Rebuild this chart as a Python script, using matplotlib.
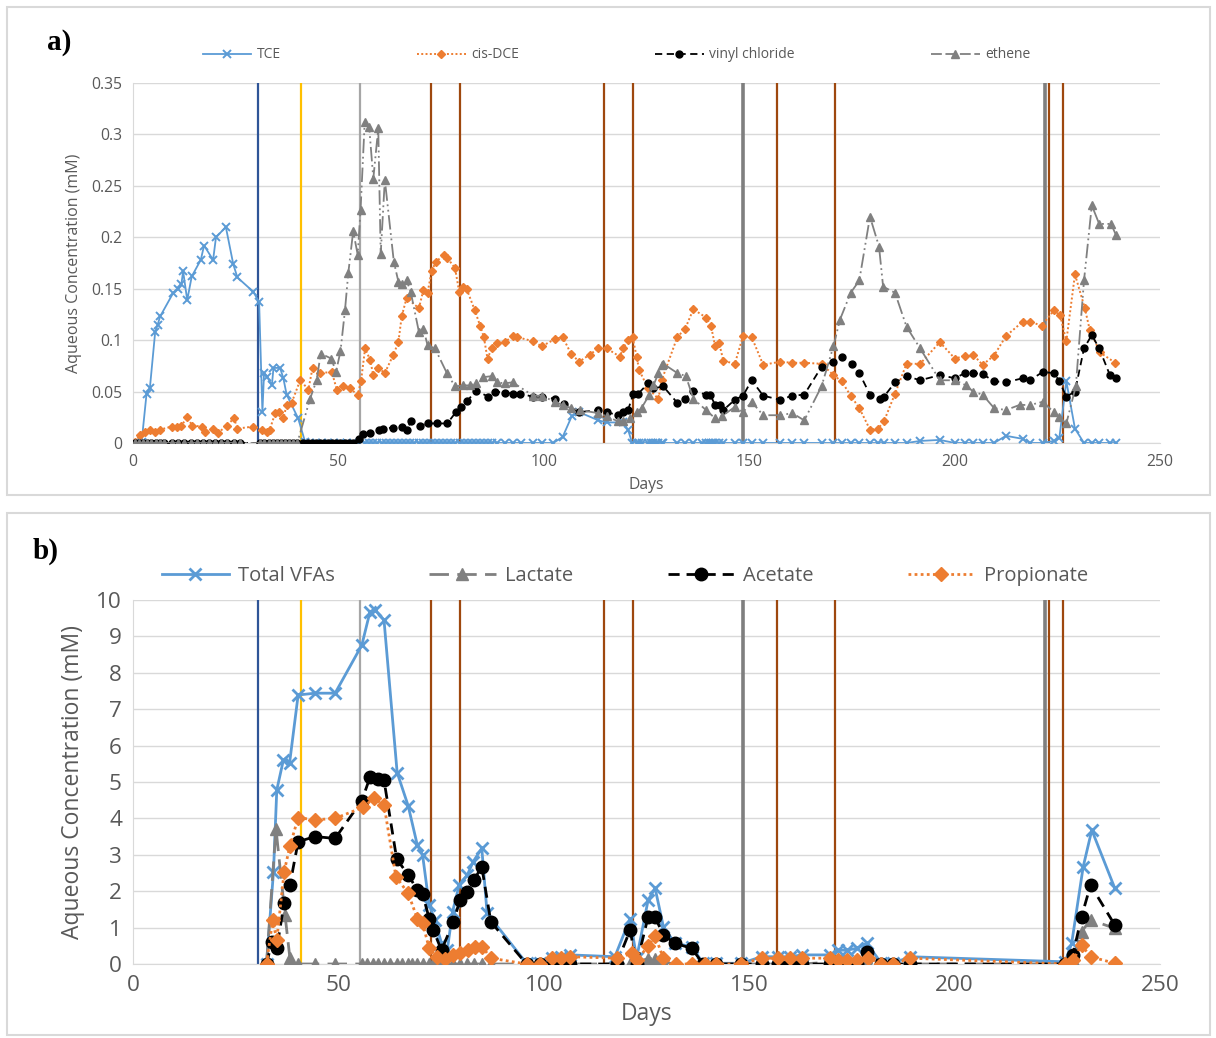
import matplotlib
matplotlib.use("Agg")
import matplotlib.pyplot as plt
from matplotlib.patches import Rectangle
from matplotlib.lines import Line2D

plt.rcParams['font.family'] = ['Open Sans', 'DejaVu Sans']

# ---------------- panel a: chlorinated ethenes (mM) ----------------
tce_days = [0.5, 2.1, 3.3, 4.1, 5.4, 6.0, 6.6, 9.8, 11.0, 11.8, 12.2, 13.2, 14.3, 16.5, 17.3,
            19.5, 20.2, 22.6, 24.4, 25.4, 29.3, 30.7, 31.5, 31.9, 32.7, 33.8, 34.2, 35.8, 36.6,
            37.4, 40.2, 41.9, 43, 44.5, 46, 47.5, 49, 50.5, 52, 53.5, 55, 56.5, 57.5, 58.5,
            59.5, 60.5, 61.5, 62.5, 63.5, 64.5, 65.5, 66.5, 67.5, 68.5, 69.5, 70.5, 71.5, 72.5,
            73.5, 74.5, 75.5, 76.5, 77.5, 78.5, 79.5, 80.5, 81.5, 82.5, 83.5, 84.5, 85.5, 86.5,
            87.5, 88.5, 90.5, 92.5, 94.5, 97.4, 99.5, 102.3, 104.6, 106.8, 108.6, 113.3, 115.3,
            119.3, 120.5, 121.5, 122.6, 123.2, 124, 125.4, 126, 126.6, 127.3, 127.9, 128.7,
            129.1, 132.5, 134.4, 136.4, 138.5, 139.5, 140.2, 140.7, 141.2, 141.7, 142.7, 143.7,
            146.5, 148.5, 150.6, 153.4, 157.5, 160.5, 163.4, 167.6, 170.5, 172.5, 174.7, 176.8,
            179.4, 181.4, 182.8, 185.5, 188.3, 191.6, 196.4, 200.1, 202.5, 204.5, 206.8, 209.6,
            212.5, 216.6, 218.4, 221.4, 224.2, 225.5, 227.2, 229.3, 231.5, 233.4, 235.2, 237.8,
            239.3]
tce_vals = [0.0, 0.001, 0.048, 0.053, 0.108, 0.115, 0.123, 0.146, 0.150, 0.155, 0.167, 0.139,
            0.162, 0.178, 0.192, 0.178, 0.200, 0.210, 0.174, 0.161, 0.147, 0.137, 0.030, 0.068,
            0.064, 0.056, 0.073, 0.073, 0.063, 0.047, 0.024, 0.001] + [0.0] * 47 + \
           [0.0, 0.006, 0.026, 0.030, 0.022, 0.020, 0.020, 0.013] + [0.0] * 39 + \
           [0.002, 0.003, 0.0, 0.0, 0.0, 0.0, 0.0, 0.007, 0.004, 0.0, 0.0, 0.002, 0.005,
            0.060, 0.014, 0.0, 0.0, 0.0, 0.0, 0.0]

dce_days = [0.5, 1.7, 2.9, 4.1, 5.4, 6.6, 9.4, 10.6, 11.8, 13.2, 14.4, 16.7, 17.5, 19.5, 20.8,
            22.8, 24.6, 25.4, 29.3, 31.3, 32.5, 33.3, 34.6, 35.6, 36.6, 37.4, 38.6, 40.7, 42.7,
            43.7, 45.5, 48.4, 49.6, 51.2, 52.8, 54.7, 55.5, 56.5, 57.7, 58.5, 59.7, 61.3, 63.4,
            64.6, 65.4, 66.6, 69.6, 70.7, 71.7, 72.7, 73.7, 75.7, 76.5, 78.4, 79.4, 80.4, 81.2,
            83.2, 84.5, 85.4, 86.3, 87.3, 88.5, 90.5, 92.4, 93.4, 97.4, 99.5, 102.7, 104.6,
            106.6, 108.6, 111.2, 113.3, 115.3, 118.5, 119.3, 120.5, 121.6, 122.6, 123.2, 125.4,
            127.9, 128.7, 132.5, 134.4, 136.4, 139.5, 140.7, 141.7, 142.7, 143.7, 146.5, 148.5,
            150.6, 153.4, 157.5, 160.5, 163.4, 167.6, 170.5, 172.5, 174.7, 176.8, 179.4, 181.4,
            182.8, 185.5, 188.3, 191.6, 196.4, 200.1, 202.5, 204.5, 206.8, 209.6, 212.5, 216.6,
            218.4, 221.2, 224.2, 225.7, 227.2, 229.3, 231.7, 232.9, 235.4, 239.1]
dce_vals = [0.001, 0.008, 0.011, 0.013, 0.011, 0.013, 0.016, 0.016, 0.017, 0.025, 0.017, 0.016,
            0.011, 0.014, 0.010, 0.017, 0.024, 0.014, 0.016, 0.013, 0.011, 0.013, 0.029, 0.030,
            0.024, 0.037, 0.039, 0.061, 0.052, 0.073, 0.068, 0.069, 0.052, 0.055, 0.053, 0.047,
            0.060, 0.092, 0.081, 0.066, 0.073, 0.068, 0.086, 0.098, 0.123, 0.141, 0.131, 0.149,
            0.146, 0.167, 0.176, 0.183, 0.180, 0.170, 0.147, 0.152, 0.150, 0.129, 0.114, 0.103,
            0.082, 0.092, 0.097, 0.098, 0.104, 0.103, 0.099, 0.094, 0.101, 0.103, 0.087, 0.079,
            0.086, 0.092, 0.092, 0.084, 0.092, 0.100, 0.103, 0.084, 0.071, 0.053, 0.043, 0.061,
            0.103, 0.111, 0.130, 0.122, 0.114, 0.094, 0.097, 0.080, 0.077, 0.104, 0.103, 0.076,
            0.079, 0.078, 0.078, 0.077, 0.066, 0.060, 0.046, 0.034, 0.013, 0.014, 0.021, 0.048,
            0.077, 0.077, 0.098, 0.082, 0.085, 0.086, 0.076, 0.085, 0.104, 0.118, 0.118, 0.114,
            0.129, 0.124, 0.099, 0.164, 0.131, 0.110, 0.088, 0.078]

vc_days = [0.5, 1.5, 2.5, 3.5, 4.5, 5.5, 6.5, 7.5, 9.5, 11, 12.5, 14, 15.5, 17, 18.5, 20, 21.5,
           23, 24.5, 26, 30.8, 32, 33, 34, 35, 36, 37, 38, 39, 40, 41.5, 42.5, 43.5, 44.5, 45.5,
           46.5, 47.5, 48.5, 49.5, 50.5, 51.5, 52.5, 53.5, 54.9, 56.1, 57.7, 59.9, 60.9, 63.4,
           65.4, 66.6, 67.7, 69.9, 71.9, 73.9, 76.5, 78.6, 79.8, 81.4, 83.5, 86.5, 88.1, 90.5,
           92.4, 94.2, 97.4, 99.5, 102.7, 104.8, 108.6, 113.3, 115.3, 118.1, 119.3, 120.5,
           121.8, 123.0, 125.4, 126.6, 129.1, 132.5, 134.4, 136.4, 139.5, 140.5, 141.7, 142.9,
           143.7, 146.5, 148.5, 150.6, 153.4, 157.5, 160.5, 163.4, 167.6, 170.5, 172.5, 175.0,
           176.8, 179.4, 181.8, 182.8, 185.5, 188.3, 191.6, 196.4, 200.1, 202.5, 204.5, 206.8,
           209.6, 212.5, 216.6, 218.4, 221.4, 224.2, 225.5, 227.2, 229.3, 231.5, 233.4, 235.2,
           237.8, 239.3]
vc_vals = [0.0] * 43 + \
          [0.004, 0.009, 0.010, 0.013, 0.014, 0.015, 0.016, 0.013, 0.021, 0.017, 0.019, 0.019,
           0.019, 0.030, 0.035, 0.041, 0.051, 0.045, 0.050, 0.049, 0.048, 0.048, 0.045, 0.045,
           0.043, 0.038, 0.030, 0.032, 0.030, 0.027, 0.030, 0.032, 0.048, 0.048, 0.058, 0.053,
           0.055, 0.039, 0.043, 0.051, 0.047, 0.047, 0.037, 0.037, 0.032, 0.042, 0.046, 0.061,
           0.046, 0.042, 0.046, 0.047, 0.074, 0.079, 0.084, 0.077, 0.068, 0.047, 0.043, 0.045,
           0.059, 0.065, 0.061, 0.066, 0.063, 0.068, 0.068, 0.067, 0.060, 0.059, 0.063, 0.061,
           0.069, 0.068, 0.060, 0.045, 0.050, 0.092, 0.105, 0.092, 0.066, 0.063]

eth_days = [0.5, 1.5, 2.5, 3.5, 4.5, 5.5, 6.5, 7.5, 9.5, 11, 12.5, 14, 15.5, 17, 18.5, 20, 21.5,
            23, 24.5, 26, 30.8, 32, 33, 34, 35, 36, 37, 38, 39, 40, 43.1, 44.7, 45.7, 48.3, 49.4,
            50.5, 51.6, 52.4, 53.6, 54.7, 55.4, 56.4, 57.5, 58.5, 59.7, 60.3, 61.3, 63.5, 64.6,
            65.6, 66.6, 67.6, 69.6, 70.7, 71.7, 73.5, 76.4, 78.4, 80.4, 82.0, 83.6, 85.3, 87.3,
            88.5, 90.5, 92.4, 97.4, 99.5, 102.7, 104.6, 106.6, 108.8, 113.3, 115.3, 118.1, 119.3,
            121.0, 122.8, 123.8, 125.7, 126.7, 127.9, 128.7, 129.1, 132.5, 134.6, 136.4, 139.5,
            141.7, 143.3, 146.5, 148.5, 150.6, 153.4, 157.5, 160.5, 163.4, 167.6, 170.5, 172.1,
            174.7, 176.8, 179.4, 181.6, 182.6, 185.5, 188.3, 191.6, 196.4, 200.1, 202.8, 204.5,
            206.8, 209.6, 212.5, 215.8, 218.4, 221.4, 224.2, 225.5, 227.2, 229.5, 231.5, 233.4,
            235.2, 238.1, 239.3]
eth_vals = [0.0] * 30 + \
           [0.043, 0.061, 0.087, 0.082, 0.069, 0.089, 0.129, 0.165, 0.206, 0.183, 0.227, 0.312,
            0.307, 0.257, 0.306, 0.184, 0.256, 0.176, 0.157, 0.155, 0.158, 0.147, 0.108, 0.111,
            0.095, 0.092, 0.068, 0.055, 0.056, 0.056, 0.058, 0.064, 0.065, 0.059, 0.058, 0.059,
            0.046, 0.046, 0.040, 0.037, 0.034, 0.032, 0.029, 0.026, 0.021, 0.021, 0.024, 0.030,
            0.034, 0.047, 0.056, 0.068, 0.076, 0.077, 0.068, 0.065, 0.043, 0.032, 0.024, 0.026,
            0.035, 0.030, 0.040, 0.027, 0.027, 0.029, 0.022, 0.055, 0.094, 0.120, 0.146, 0.158,
            0.220, 0.191, 0.152, 0.146, 0.113, 0.092, 0.061, 0.061, 0.056, 0.050, 0.047, 0.034,
            0.032, 0.037, 0.037, 0.040, 0.030, 0.025, 0.019, 0.055, 0.158, 0.231, 0.213, 0.213,
            0.202]

# ---------------- panel b: volatile fatty acids (mM) ----------------
vfa_days = [32.5, 34.2, 35.0, 36.6, 38.1, 40.2, 44.3, 49.2, 55.7, 57.7, 58.9, 61.1, 64.3, 67.0,
            69.2, 70.5, 72.1, 73.5, 75.1, 76.5, 77.8, 79.4, 81.4, 82.8, 84.9, 86.2, 95.8, 99.1,
            101.9, 104.3, 106.4, 117.3, 121.0, 122.6, 125.4, 127.1, 129.1, 131.9, 136.0, 138.8,
            142.0, 148.1, 153.0, 157.0, 160.0, 162.8, 169.7, 171.7, 173.7, 176.2, 178.6, 182.2,
            185.1, 189.1, 226.9, 228.5, 231.3, 233.4, 239.0]
vfa_vals = [0.0, 2.54, 4.78, 5.60, 5.51, 7.39, 7.44, 7.44, 8.76, 9.68, 9.73, 9.45, 5.26, 4.34,
            3.27, 2.99, 1.62, 1.21, 0.57, 0.38, 1.44, 2.17, 2.45, 2.81, 3.18, 1.39, 0.02, 0.02,
            0.16, 0.20, 0.25, 0.20, 1.25, 0.16, 1.76, 2.08, 1.03, 0.57, 0.48, 0.02, 0.02, 0.02,
            0.20, 0.20, 0.20, 0.25, 0.25, 0.38, 0.38, 0.43, 0.57, 0.02, 0.02, 0.20, 0.06, 0.57,
            2.67, 3.68, 2.08]

ace_days = [32.5, 33.8, 35.0, 36.8, 38.2, 40.2, 44.3, 49.2, 55.7, 57.7, 59.7, 61.1, 64.2, 67.0,
            69.2, 70.5, 72.1, 73.1, 75.1, 78.0, 79.6, 81.2, 83.0, 84.9, 87.1, 95.8, 99.1, 102.3,
            104.3, 106.4, 117.7, 121.0, 122.6, 125.4, 127.1, 129.1, 131.9, 136.0, 138.8, 142.0,
            148.1, 153.0, 157.0, 160.0, 162.8, 169.7, 171.7, 173.7, 176.2, 178.6, 182.2, 185.1,
            189.1, 226.9, 228.8, 230.9, 233.1, 239.0]
ace_vals = [0.0, 0.61, 0.43, 1.68, 2.17, 3.36, 3.50, 3.45, 4.49, 5.13, 5.07, 5.05, 2.88, 2.45,
            2.03, 1.92, 1.25, 0.93, 0.38, 1.16, 1.76, 1.99, 2.31, 2.67, 1.16, 0.0, 0.0, 0.0, 0.0,
            0.0, 0.0, 0.93, 0.0, 1.30, 1.28, 0.80, 0.57, 0.43, 0.0, 0.0, 0.0, 0.0, 0.0, 0.0, 0.0,
            0.0, 0.0, 0.0, 0.0, 0.34, 0.0, 0.0, 0.0, 0.0, 0.25, 1.30, 2.17, 1.07]

pro_days = [32.5, 34.0, 35.0, 36.8, 38.2, 40.2, 44.3, 49.2, 55.9, 58.6, 61.1, 64.0, 67.0, 69.2,
            70.5, 72.1, 73.9, 75.9, 78.0, 79.6, 81.6, 83.3, 85.0, 87.1, 95.8, 99.1, 101.9, 104.3,
            106.4, 117.7, 121.4, 122.6, 125.4, 127.1, 129.1, 132.3, 136.0, 139.2, 142.0, 148.1,
            153.0, 157.0, 160.0, 162.8, 169.7, 171.7, 173.7, 176.2, 179.0, 182.2, 185.1, 189.1,
            226.9, 228.8, 230.9, 233.1, 239.0]
pro_vals = [0.0, 1.21, 0.66, 2.54, 3.24, 4.02, 3.96, 4.00, 4.30, 4.55, 4.37, 2.40, 1.94, 1.25,
            1.12, 0.43, 0.20, 0.13, 0.25, 0.29, 0.38, 0.48, 0.48, 0.16, 0.0, 0.0, 0.16, 0.16,
            0.20, 0.16, 0.29, 0.10, 0.49, 0.77, 0.16, 0.0, 0.0, 0.0, 0.0, 0.0, 0.16, 0.16, 0.16,
            0.16, 0.16, 0.10, 0.10, 0.10, 0.16, 0.0, 0.0, 0.16, 0.0, 0.10, 0.52, 0.20, 0.02]

lac_days = [32.5, 34.8, 37.0, 38.2, 40.2, 44.3, 49.2, 55.7, 57.0, 58.5, 59.7, 61.1, 62.5, 64.2,
            65.5, 67.0, 68.0, 69.2, 70.5, 72.1, 73.1, 74.0, 75.1, 76.5, 78.0, 79.6, 81.2, 83.0,
            84.9, 87.1, 95.8, 99.1, 102.3, 104.3, 106.4, 117.7, 121.0, 122.6, 125.4, 127.1,
            129.1, 131.9, 136.0, 138.8, 142.0, 148.1, 153.0, 157.0, 160.0, 162.8, 169.7, 171.7,
            173.7, 176.2, 178.6, 182.2, 185.1, 189.1, 226.9, 228.8, 230.9, 233.1, 239.0]
lac_vals = [0.0, 3.72, 1.35, 0.16] + [0.0] * 32 + \
           [0.0, 0.05, 0.15, 0.15, 0.05] + [0.0] * 9 + \
           [0.05, 0.05, 0.05, 0.05, 0.05] + [0.0] * 4 + [0.10, 0.89, 1.21, 0.98]

# vertical event lines (days, colour, width)
event_days = [30.5, 41.0, 55.2, 72.6, 79.7, 114.6, 121.7, 148.6, 156.7, 170.8, 221.9, 222.9, 226.5]
event_cols = ['#2f5597', '#ffc000', '#a6a6a6', '#9e480e', '#9e480e', '#9e480e', '#9e480e',
              '#7f7f7f', '#9e480e', '#9e480e', '#7f7f7f', '#9e480e', '#9e480e']
event_lw = [1.6, 1.6, 1.6, 1.6, 1.6, 1.6, 1.6, 2.6, 1.6, 1.6, 2.6, 1.6, 1.6]

BLUE = '#5b9bd5'
ORANGE = '#ed7d31'
GREY = '#808080'
TXT = '#595959'

fig = plt.figure(figsize=(12.16, 10.38), dpi=100)

# panel frames
fig.patches.append(Rectangle((7 / 1216, 1 - 495 / 1038), 1203 / 1216, 488 / 1038,
                             transform=fig.transFigure, fill=False, ec='#d9d9d9', lw=1.5))
fig.patches.append(Rectangle((7 / 1216, 1 - 1035 / 1038), 1203 / 1216, 522 / 1038,
                             transform=fig.transFigure, fill=False, ec='#d9d9d9', lw=1.5))

ax1 = fig.add_axes([133 / 1216, 1 - 443 / 1038, 1027 / 1216, 360 / 1038])
ax2 = fig.add_axes([133 / 1216, 1 - 964 / 1038, 1027 / 1216, 364 / 1038])


def style_axes(ax, ymax, ystep, fs, yfmt):
    ax.set_xlim(0, 250)
    ax.set_ylim(0, ymax)
    ax.set_xticks(range(0, 251, 50))
    yt = [i * ystep for i in range(int(round(ymax / ystep)) + 1)]
    ax.set_yticks(yt)
    ax.set_yticklabels([yfmt(v) for v in yt])
    ax.grid(axis='y', color='#d9d9d9', lw=1)
    ax.set_axisbelow(True)
    for s in ['top', 'right']:
        ax.spines[s].set_visible(False)
    ax.spines['left'].set_color('#d9d9d9')
    ax.spines['bottom'].set_color('#d9d9d9')
    ax.tick_params(length=0, labelsize=fs, colors=TXT, pad=8)


def fmt_a(v):
    return '0' if v == 0 else ('%.2f' % v).rstrip('0').rstrip('.')


style_axes(ax1, 0.35, 0.05, 11.3, fmt_a)
style_axes(ax2, 10, 1, 16.2, lambda v: '%d' % v)

for ax in (ax1, ax2):
    for d, c, w in zip(event_days, event_cols, event_lw):
        ax.axvline(d, color=c, lw=w, zorder=1)

# panel a series
ax1.plot(tce_days, tce_vals, color=BLUE, lw=1.3, marker='x', ms=6, mew=1.4, zorder=3)
ax1.plot(dce_days, dce_vals, color=ORANGE, lw=1.4, ls=(0, (1, 1.2)), marker='D', ms=4.2,
         zorder=4)
ax1.plot(vc_days, vc_vals, color='black', lw=1.3, ls=(0, (4, 2.5)), marker='o', ms=5, zorder=5)
ax1.plot(eth_days, eth_vals, color=GREY, lw=1.3, ls=(0, (8, 2, 1, 2, 1, 2)), marker='^',
         ms=5.5, zorder=6)

ax1.set_xlabel('Days', fontsize=11.3, color=TXT, labelpad=5)
ax1.set_ylabel('Aqueous Concentration (mM)', fontsize=11.5, color=TXT, labelpad=6)

# panel b series
ax2.plot(vfa_days, vfa_vals, color=BLUE, lw=2, marker='x', ms=9, mew=2, zorder=3)
ax2.plot(lac_days, lac_vals, color=GREY, lw=2, ls=(0, (7, 3)), marker='^', ms=8, zorder=4)
ax2.plot(ace_days, ace_vals, color='black', lw=2, ls=(0, (4, 2.5)), marker='o', ms=9,
         zorder=5)
ax2.plot(pro_days, pro_vals, color=ORANGE, lw=2, ls=(0, (1, 1.2)), marker='D', ms=7,
         zorder=6)

ax2.set_xlabel('Days', fontsize=16.5, color=TXT, labelpad=4)
ax2.set_ylabel('Aqueous Concentration (mM)', fontsize=16.5, color=TXT, labelpad=8)

# legends
h_a = [Line2D([], [], color=BLUE, lw=1.3, marker='x', ms=6, mew=1.4),
       Line2D([], [], color=ORANGE, lw=1.4, ls=(0, (1, 1.2)), marker='D', ms=4.2),
       Line2D([], [], color='black', lw=1.3, ls=(0, (4, 2.5)), marker='o', ms=5),
       Line2D([], [], color=GREY, lw=1.3, ls=(0, (6, 2)), marker='^', ms=5.5)]
fig.legend(h_a, ['TCE', 'cis-DCE', 'vinyl chloride', 'ethene'], loc='center',
           bbox_to_anchor=(0.507, 1 - 55 / 1038), ncol=4, frameon=False, fontsize=10,
           labelcolor=TXT, handlelength=3.5, columnspacing=9.8, handletextpad=0.4)

h_b = [Line2D([], [], color=BLUE, lw=2, marker='x', ms=9, mew=2),
       Line2D([], [], color=GREY, lw=2, ls=(0, (7, 3)), marker='^', ms=8),
       Line2D([], [], color='black', lw=2, ls=(0, (4, 2.5)), marker='o', ms=9),
       Line2D([], [], color=ORANGE, lw=2, ls=(0, (1, 1.2)), marker='D', ms=7)]
fig.legend(h_b, ['Total VFAs', 'Lactate', 'Acetate', 'Propionate'], loc='center',
           bbox_to_anchor=(0.514, 1 - 576 / 1038), ncol=4, frameon=False, fontsize=14.5,
           labelcolor=TXT, handlelength=3.3, columnspacing=4.7, handletextpad=0.45)

fig.text(47 / 1216, 1 - 42 / 1038, 'a)', fontsize=21, fontweight='bold',
         family='Liberation Serif', va='center', ha='left')
fig.text(33 / 1216, 1 - 551 / 1038, 'b)', fontsize=21, fontweight='bold',
         family='Liberation Serif', va='center', ha='left')

fig.savefig('out.png', dpi=100)
